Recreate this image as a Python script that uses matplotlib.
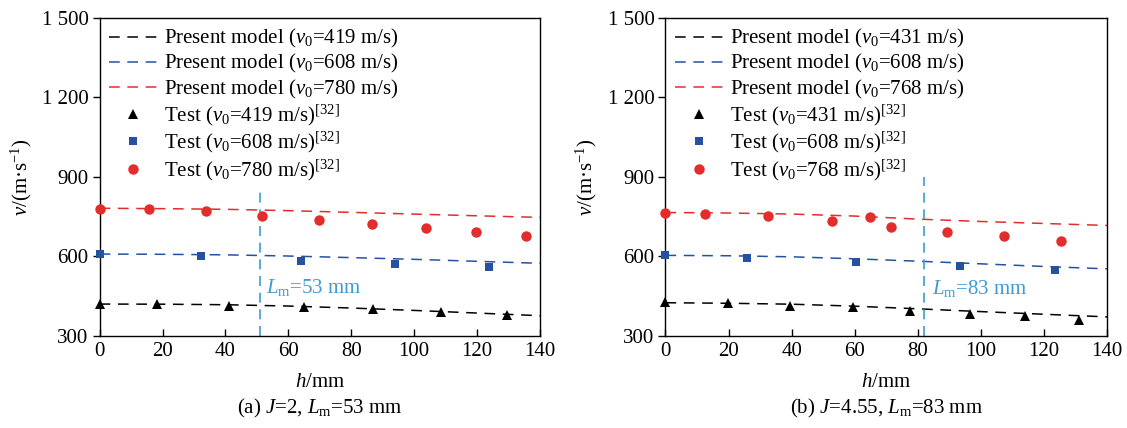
import matplotlib
matplotlib.use("Agg")
import matplotlib.pyplot as plt
from matplotlib.ticker import FuncFormatter

plt.rcParams['font.family'] = ['Liberation Serif', 'DejaVu Serif']
plt.rcParams['mathtext.fontset'] = 'custom'
plt.rcParams['mathtext.rm'] = 'Liberation Serif'
plt.rcParams['mathtext.it'] = 'Liberation Serif:italic'
plt.rcParams['mathtext.bf'] = 'Liberation Serif:bold'

# ---------------- data ----------------
h_model = [0, 20, 40, 60, 80, 100, 120, 140]

# panel (a)
a_v0 = [419, 608, 780]
a_model_419 = [419, 418.5, 416.5, 411.5, 404, 395, 385, 375]
a_model_608 = [608, 607, 605, 600.5, 594.5, 588, 580.5, 573]
a_model_780 = [781, 779.5, 777, 772, 765.5, 759, 752.5, 746.5]
a_test_h_419 = [0, 18.3, 41.1, 65, 86.9, 108.5, 129.5]
a_test_v_419 = [420, 418, 413, 406, 400, 389, 377]
a_test_h_608 = [0, 32.3, 64, 93.8, 123.9]
a_test_v_608 = [608, 601, 582, 570, 560]
a_test_h_780 = [0, 15.8, 33.7, 51.6, 69.7, 86.7, 103.7, 119.7, 135.6]
a_test_v_780 = [780, 779, 771, 750, 735, 721, 707, 692, 678]
a_Lm = 51
a_Lm_top = 850

# panel (b)
b_v0 = [431, 608, 768]
b_model_431 = [424, 422, 418.5, 411, 401, 390.5, 380.5, 370.5]
b_model_608 = [603, 601.5, 597.5, 590, 581, 571, 561, 552]
b_model_768 = [765, 763, 759, 751.5, 740, 731, 723.5, 716]
b_test_h_431 = [0, 19.9, 39.6, 59.6, 77.5, 96.5, 114, 131.2]
b_test_v_431 = [425, 422, 413, 406, 393, 381, 375, 360]
b_test_h_608 = [0, 26, 60.5, 93.4, 123.5]
b_test_v_608 = [603, 594, 577, 561, 546]
b_test_h_768 = [0, 12.5, 32.6, 52.7, 64.9, 71.5, 89.3, 107.4, 125.4]
b_test_v_768 = [764, 760, 752, 733, 749, 712, 692, 676, 657]
b_Lm = 82
b_Lm_top = 900

yticks = [300, 600, 900, 1200, 1500]
xticks = [0, 20, 40, 60, 80, 100, 120, 140]

BLACK = '#000000'
BLUE = '#2452a0'
RED = '#e32d2d'
LBLUE = '#3f9bd3'

FS = 15


def fmt_thousands(v, pos):
    v = int(round(v))
    if v >= 1000:
        return f"{v // 1000} {v % 1000:03d}"
    return str(v)


def panel(ax, v0s, models, tests, Lm, Lm_top, lm_label, caption,
          xpos_text, ypos_text):
    colors = [BLACK, BLUE, RED]
    markers = ['^', 's', 'o']
    msizes = [7, 6, 7.5]
    for v0, m, c in zip(v0s, models, colors):
        ax.plot(h_model, m, color=c, lw=1.1, dashes=(7, 5),
                label=f"Present model ($v_0$={v0} m/s)")
    for v0, (th, tv), c, mk, ms in zip(v0s, tests, colors, markers, msizes):
        ax.plot(th, tv, linestyle='none', marker=mk, color=c, ms=ms,
                markeredgewidth=0, label=f"Test ($v_0$={v0} m/s)$^{{[32]}}$",
                clip_on=False, zorder=4)
    ax.plot([Lm, Lm], [300, Lm_top], color=LBLUE, lw=1.2, dashes=(6, 4))
    ax.text(xpos_text, ypos_text, lm_label, color=LBLUE, fontsize=FS,
            va='center', ha='left')
    ax.set_xlim(0, 140)
    ax.set_ylim(300, 1500)
    ax.set_xticks(xticks)
    ax.set_yticks(yticks)
    ax.yaxis.set_major_formatter(FuncFormatter(fmt_thousands))
    ax.tick_params(axis='x', direction='in', length=5, width=1, pad=5,
                   labelsize=FS)
    ax.tick_params(axis='y', direction='out', length=5, width=1, pad=3,
                   labelsize=FS)
    for s in ax.spines.values():
        s.set_linewidth(1.0)
    ax.set_xlabel("$h$/mm", fontsize=FS, labelpad=8)
    ax.set_ylabel(r"$v$/(m·s$^{-1}$)", fontsize=FS)
    ax.yaxis.set_label_coords(-0.15, 0.5)
    h, l = ax.get_legend_handles_labels()
    ax.legend(h, l, loc='upper left', frameon=False, fontsize=FS,
              handlelength=2.3, handletextpad=0.35, labelspacing=0.1,
              borderaxespad=0.25, borderpad=0.2)
    pos = ax.get_position()
    fig.text(pos.x0 + pos.width / 2, 0.045, caption, fontsize=FS,
             ha='center', va='center')


fig = plt.figure(figsize=(11.27, 4.28), dpi=100)
ax1 = fig.add_axes([0.0884, 0.216, 0.3908, 0.742])
ax2 = fig.add_axes([0.5905, 0.216, 0.3918, 0.742])

panel(ax1, a_v0, [a_model_419, a_model_608, a_model_780],
      [(a_test_h_419, a_test_v_419), (a_test_h_608, a_test_v_608),
       (a_test_h_780, a_test_v_780)],
      a_Lm, a_Lm_top, r"$L_\mathrm{m}$=53 mm",
      r"(a) $J$=2, $L_\mathrm{m}$=53 mm", 53, 483)
panel(ax2, b_v0, [b_model_431, b_model_608, b_model_768],
      [(b_test_h_431, b_test_v_431), (b_test_h_608, b_test_v_608),
       (b_test_h_768, b_test_v_768)],
      b_Lm, b_Lm_top, r"$L_\mathrm{m}$=83 mm",
      r"(b) $J$=4.55, $L_\mathrm{m}$=83 mm", 84.5, 478)

fig.savefig("out.png", dpi=100)
